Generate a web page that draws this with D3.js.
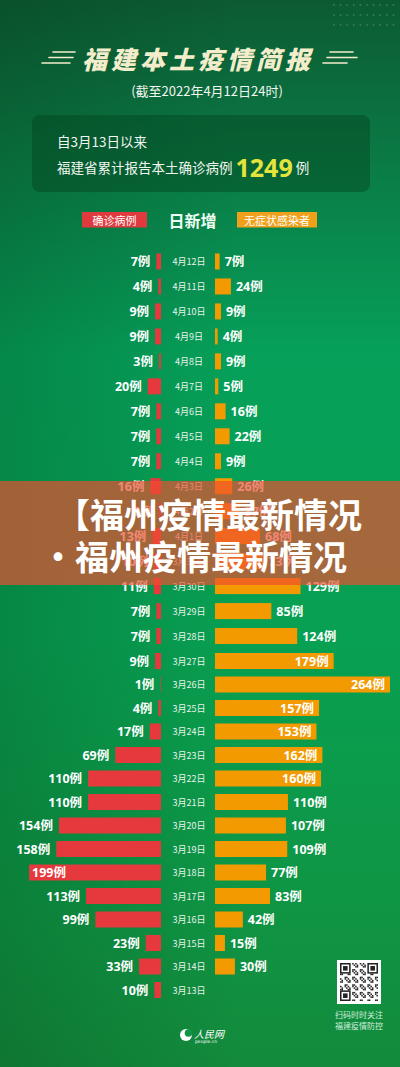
<!DOCTYPE html>
<html><head><meta charset="utf-8">
<script src="https://cdn.jsdelivr.net/npm/d3@7"></script>
<style>html,body{margin:0;padding:0;background:#0a8a48;}svg{display:block;}</style>
</head><body>
<script>
const dates = ["4月12日","4月11日","4月10日","4月9日","4月8日","4月7日","4月6日","4月5日","4月4日","4月3日","4月2日","4月1日","3月31日","3月30日","3月29日","3月28日","3月27日","3月26日","3月25日","3月24日","3月23日","3月22日","3月21日","3月20日","3月19日","3月18日","3月17日","3月16日","3月15日","3月14日","3月13日"];
const confirmed = [7,4,9,9,3,20,7,7,7,16,3,13,10,11,7,7,9,1,4,17,69,110,110,154,158,199,113,99,23,33,10];
const asymptomatic = [7,24,9,4,9,5,16,22,9,26,37,68,73,129,85,124,179,264,157,153,162,160,110,107,109,77,83,42,15,30,null];
const legendLabels = ["确诊病例","日新增","无症状感染者"];
const totalConfirmed = 1249;

const W = 400, H = 1067;
const FONT = "'Noto Sans CJK SC','Noto Sans',sans-serif";
const svg = d3.select("body").append("svg").attr("width", W).attr("height", H);
const defs = svg.append("defs");

// background
const bg = defs.append("linearGradient").attr("id","bg").attr("x1",0).attr("y1",0).attr("x2",0).attr("y2",1);
[[0,"#0c5a33"],[0.13,"#0b7643"],[0.33,"#06a05a"],[0.6,"#08a052"],[0.85,"#0f9544"],[1,"#138a3c"]]
  .forEach(([o,c])=>bg.append("stop").attr("offset",o).attr("stop-color",c));
svg.append("rect").attr("width",W).attr("height",H).attr("fill","url(#bg)");
const side = defs.append("linearGradient").attr("id","side").attr("x1",0).attr("y1",0).attr("x2",1).attr("y2",0);
side.append("stop").attr("offset",0).attr("stop-color","#003010").attr("stop-opacity",0.22);
side.append("stop").attr("offset",0.6).attr("stop-color","#003010").attr("stop-opacity",0);
svg.append("rect").attr("width",W).attr("height",H).attr("fill","url(#side)");

// dot pattern top right
const dotG = svg.append("g").attr("fill","#ffffff").attr("opacity",0.18);
d3.range(3).forEach(r=>d3.range(10).forEach(c=>{
  dotG.append("circle").attr("cx",334+c*6.6).attr("cy",5+r*10).attr("r",0.9);
}));

// title
const titleCol = "#f3edcb";
svg.append("text").attr("x",198).attr("y",58).attr("text-anchor","middle").attr("dominant-baseline","central")
  .attr("font-family",FONT).attr("font-size",25).attr("font-weight",900).attr("font-style","italic")
  .attr("letter-spacing",4).attr("fill",titleCol).text("福建本土疫情简报");
const deco = svg.append("g").attr("stroke",titleCol).attr("stroke-width",1.6).attr("stroke-linecap","round");
[[53,75,52],[49,73,57.5],[42,70,63]].forEach(([a,b,yy])=>deco.append("line").attr("x1",a).attr("x2",b).attr("y1",yy).attr("y2",yy));
[[330,353,52],[327,357,57.5],[323,347,63]].forEach(([a,b,yy])=>deco.append("line").attr("x1",a).attr("x2",b).attr("y1",yy).attr("y2",yy));
svg.append("text").attr("x",207).attr("y",90).attr("text-anchor","middle").attr("dominant-baseline","central")
  .attr("font-family",FONT).attr("font-size",13).attr("fill","#f2f6f0").text("(截至2022年4月12日24时)");

// summary box
svg.append("rect").attr("x",32).attr("y",115).attr("width",338).attr("height",77).attr("rx",8)
  .attr("fill","#03401c").attr("opacity",0.42);
svg.append("text").attr("x",57).attr("y",141).attr("dominant-baseline","central")
  .attr("font-family",FONT).attr("font-size",13.5).attr("fill","#f2f6f0").text("自3月13日以来");
const l2 = svg.append("text").attr("x",57).attr("y",167).attr("dominant-baseline","central")
  .attr("font-family",FONT).attr("font-size",13.5).attr("fill","#f2f6f0");
l2.append("tspan").text("福建省累计报告本土确诊病例 ");
l2.append("tspan").attr("font-size",25).attr("font-weight",700).attr("fill","#e4e43c").attr("font-family","'Open Sans','Noto Sans',sans-serif").text(totalConfirmed);
l2.append("tspan").attr("dx",3).text("例");

// legend
const legY = 212, legH = 15.5;
svg.append("rect").attr("x",82).attr("y",legY).attr("width",65).attr("height",legH).attr("fill","#e0393e");
svg.append("text").attr("x",114.5).attr("y",legY+legH/2).attr("text-anchor","middle").attr("dominant-baseline","central")
  .attr("font-family",FONT).attr("font-size",11).attr("fill","#fff").text(legendLabels[0]);
svg.append("text").attr("x",192.5).attr("y",legY+legH/2).attr("text-anchor","middle").attr("dominant-baseline","central")
  .attr("font-family",FONT).attr("font-size",16).attr("font-weight",700).attr("fill","#effff4").text(legendLabels[1]);
svg.append("rect").attr("x",237).attr("y",legY).attr("width",80).attr("height",legH).attr("fill","#f0a01a");
svg.append("text").attr("x",277).attr("y",legY+legH/2).attr("text-anchor","middle").attr("dominant-baseline","central")
  .attr("font-family",FONT).attr("font-size",11).attr("fill","#fff").text(legendLabels[2]);

// scales
const y = d3.scaleLinear().domain([0,16,30]).range([261.5,661,990]);
const x = d3.scaleLinear().domain([0,264]).range([0,175]);
const xL0 = 161, xR0 = 215, barH = 16;
const rows = dates.map((d,i)=>({d,i,c:confirmed[i],a:asymptomatic[i]}));

const chart = svg.append("g");
chart.selectAll("rect.red").data(rows).join("rect").attr("class","red")
  .attr("x",r=>xL0-x(r.c)).attr("y",r=>y(r.i)-barH/2).attr("width",r=>x(r.c)).attr("height",barH).attr("fill","#e5393d");
chart.selectAll("rect.org").data(rows.filter(r=>r.a!=null)).join("rect").attr("class","org")
  .attr("x",xR0).attr("y",r=>y(r.i)-barH/2).attr("width",r=>x(r.a)).attr("height",barH).attr("fill","#f39a00");

const valFont = "'Open Sans','Noto Sans CJK SC',sans-serif";
chart.selectAll("text.lv").data(rows).join("text").attr("class","lv")
  .attr("x",r=> r.c>=190 ? xL0-x(r.c)+3 : xL0-x(r.c)-6)
  .attr("text-anchor",r=> r.c>=190 ? "start" : "end")
  .attr("y",r=>y(r.i)).attr("dominant-baseline","central")
  .attr("font-family",valFont).attr("font-size",12.5).attr("font-weight",700).attr("fill","#ffffff")
  .text(r=>r.c+"例");
chart.selectAll("text.rv").data(rows.filter(r=>r.a!=null)).join("text").attr("class","rv")
  .attr("x",r=> r.a>=150 ? xR0+x(r.a)-5 : xR0+x(r.a)+5)
  .attr("text-anchor",r=> r.a>=150 ? "end" : "start")
  .attr("y",r=>y(r.i)).attr("dominant-baseline","central")
  .attr("font-family",valFont).attr("font-size",12.5).attr("font-weight",700).attr("fill","#ffffff")
  .text(r=>r.a+"例");
chart.selectAll("text.dt").data(rows).join("text").attr("class","dt")
  .attr("x",189).attr("y",r=>y(r.i)).attr("text-anchor","middle").attr("dominant-baseline","central")
  .attr("font-family",FONT).attr("font-size",9).attr("fill","#e8f3ec").text(r=>r.d);

// banner overlay
svg.append("rect").attr("x",0).attr("y",481).attr("width",W).attr("height",104).attr("fill","rgb(239,78,48)").attr("opacity",0.68);
svg.append("text").attr("x",56).attr("y",513).attr("dominant-baseline","central")
  .attr("font-family",FONT).attr("font-size",34).attr("font-weight",700).attr("fill","#ffffff").text("【福州疫情最新情况");
svg.append("text").attr("x",41).attr("y",555).attr("dominant-baseline","central")
  .attr("font-family",FONT).attr("font-size",34).attr("font-weight",700).attr("fill","#ffffff").text("·福州疫情最新情况");

// QR-like decoration
const qx = 337, qy = 960, qs = 44;
svg.append("rect").attr("x",qx).attr("y",qy).attr("width",qs).attr("height",qs).attr("fill","#ffffff");
const qg = svg.append("g").attr("fill","#222");
const n = 25, m = (qs-6)/n;
d3.range(n).forEach(i=>d3.range(n).forEach(j=>{
  const inFinder = (i<7&&j<7)||(i>=n-7&&j<7)||(i<7&&j>=n-7);
  if(inFinder) return;
  if(((i*7+j*13+i*j)%5)<2) qg.append("rect").attr("x",qx+3+i*m).attr("y",qy+3+j*m).attr("width",m).attr("height",m);
}));
[[0,0],[n-7,0],[0,n-7]].forEach(([i,j])=>{
  qg.append("rect").attr("x",qx+3+i*m).attr("y",qy+3+j*m).attr("width",7*m).attr("height",7*m);
  svg.append("rect").attr("x",qx+3+(i+1)*m).attr("y",qy+3+(j+1)*m).attr("width",5*m).attr("height",5*m).attr("fill","#fff");
  svg.append("rect").attr("x",qx+3+(i+2)*m).attr("y",qy+3+(j+2)*m).attr("width",3*m).attr("height",3*m).attr("fill","#222");
});
svg.append("text").attr("x",359).attr("y",1014).attr("text-anchor","middle").attr("dominant-baseline","central")
  .attr("font-family",FONT).attr("font-size",8).attr("fill","#cfeedd").text("扫码时时关注");
svg.append("text").attr("x",359).attr("y",1025).attr("text-anchor","middle").attr("dominant-baseline","central")
  .attr("font-family",FONT).attr("font-size",8).attr("fill","#cfeedd").text("福建疫情防控");

// logo
svg.append("circle").attr("cx",186).attr("cy",1035).attr("r",6).attr("fill","#ffffff");
svg.append("circle").attr("cx",188.5).attr("cy",1033).attr("r",3.8).attr("fill","#0f9545");
svg.append("text").attr("x",194).attr("y",1033).attr("dominant-baseline","central")
  .attr("font-family",FONT).attr("font-size",10).attr("font-style","italic").attr("fill","#ffffff").text("人民网");
svg.append("text").attr("x",195).attr("y",1041.5).attr("dominant-baseline","central")
  .attr("font-family","'DejaVu Sans',sans-serif").attr("font-size",4.5).attr("fill","#ffffff").text("people.cn");
</script>
</body></html>
